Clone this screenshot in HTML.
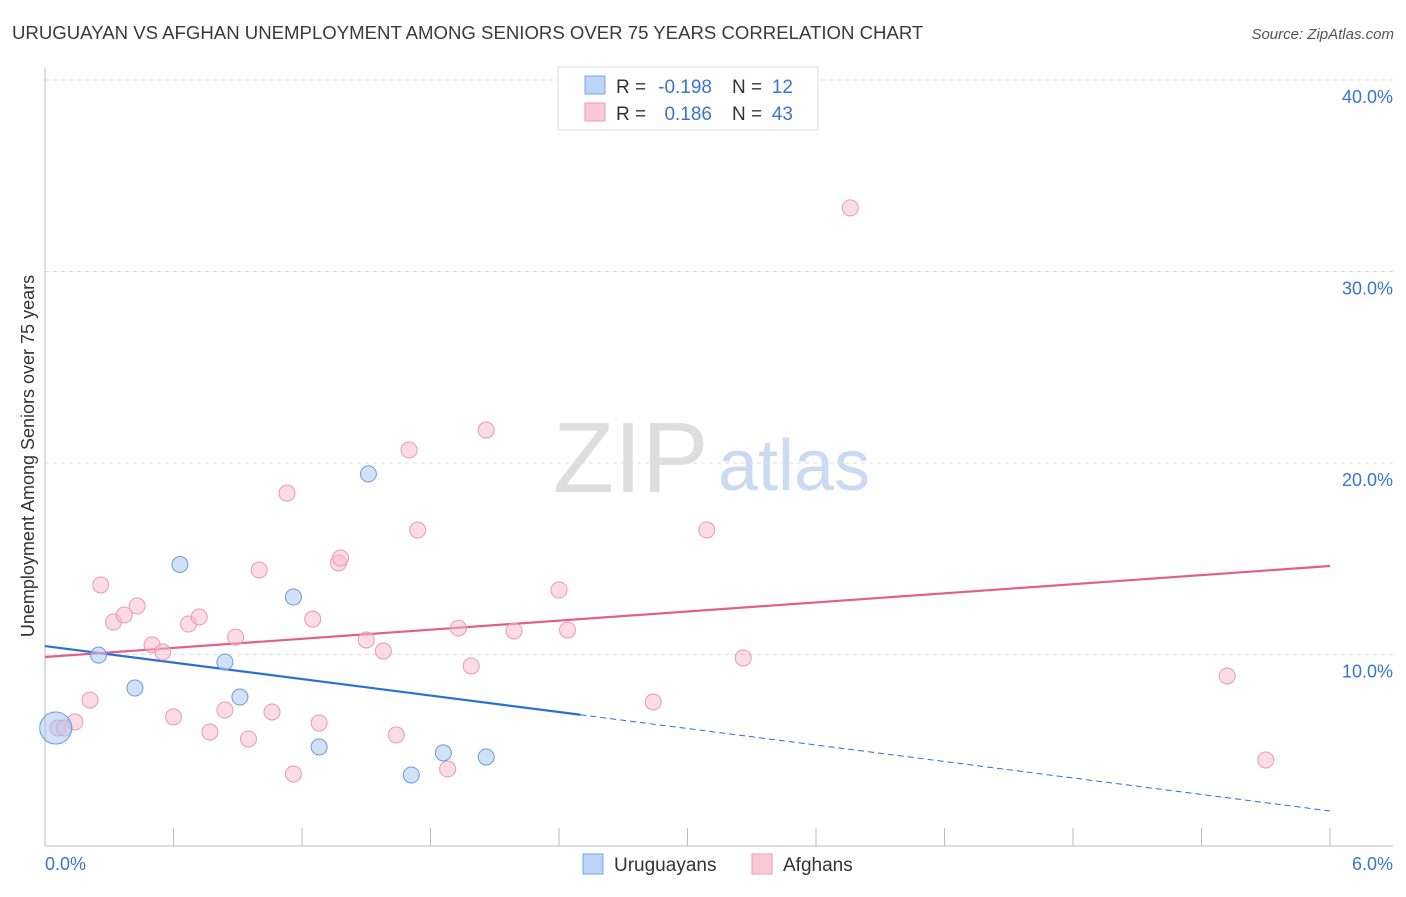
<!DOCTYPE html>
<html><head><meta charset="utf-8"><style>
body{margin:0;background:#fff;font-family:"Liberation Sans",sans-serif}
svg text{font-family:"Liberation Sans",sans-serif}
</style></head><body>
<svg id="chart" width="1406" height="892" xmlns="http://www.w3.org/2000/svg">
<text x="12" y="39" font-size="18.6" fill="#3a3a3a">URUGUAYAN VS AFGHAN UNEMPLOYMENT AMONG SENIORS OVER 75 YEARS CORRELATION CHART</text>
<text x="1394" y="39" font-size="15" fill="#555" text-anchor="end" font-style="italic">Source: ZipAtlas.com</text>
<text x="553" y="492" font-size="100" fill="#ddd" font-family="Liberation Serif">ZIP</text>
<text x="718" y="490" font-size="72" fill="#c9daf3">atlas</text>
<g id="grid"></g>
<g id="axes"></g>
<g id="lines"></g>
<g id="points"></g>
<text transform="translate(34,456) rotate(-90)" font-size="18" fill="#333" text-anchor="middle">Unemployment Among Seniors over 75 years</text>
<text x="45" y="870" font-size="18" fill="#3a74d0">0.0%</text>
<text x="1393" y="870" font-size="18" fill="#3a74d0" text-anchor="end">6.0%</text>
<g>
<rect x="558" y="67" width="260" height="63" fill="#fff" stroke="#ddd"/>
<rect x="585" y="76" width="20" height="18" fill="#bcd4f5" stroke="#7aa6e4"/>
<rect x="585" y="103" width="20" height="18" fill="#fbc9d6" stroke="#ee9ab2"/>
<text x="616" y="93" font-size="19" fill="#333">R =</text>
<text x="712" y="93" font-size="19" fill="#3a74d0" text-anchor="end">-0.198</text>
<text x="732" y="93" font-size="19" fill="#333">N =</text>
<text x="793" y="93" font-size="19" fill="#3a74d0" text-anchor="end">12</text>
<text x="616" y="120" font-size="19" fill="#333">R =</text>
<text x="712" y="120" font-size="19" fill="#3a74d0" text-anchor="end">0.186</text>
<text x="732" y="120" font-size="19" fill="#333">N =</text>
<text x="793" y="120" font-size="19" fill="#3a74d0" text-anchor="end">43</text>
</g>
<g>
<rect x="583" y="854" width="20" height="20" fill="#bcd4f5" stroke="#7aa6e4"/>
<text x="614" y="871" font-size="19" fill="#333">Uruguayans</text>
<rect x="752" y="854" width="20" height="20" fill="#fbc9d6" stroke="#ee9ab2"/>
<text x="783" y="871" font-size="19" fill="#333">Afghans</text>
</g>
</svg>
<script>
const yTicks=[10,20,30,40];
const yTickLabels=["10.0%","20.0%","30.0%","40.0%"];
const uruX=[0.05,0.25,0.42,0.63,0.84,0.91,1.16,1.28,1.51,1.71,1.86,2.06];
const uruY=[6.16,9.97,8.25,14.7,9.6,7.78,13.0,5.17,19.43,3.71,4.86,4.65];
const afgX=[0.06,0.09,0.14,0.21,0.26,0.32,0.37,0.43,0.50,0.55,0.60,0.67,0.72,0.77,0.84,0.89,0.95,1.00,1.06,1.13,1.16,1.25,1.28,1.37,1.38,1.50,1.58,1.64,1.70,1.74,1.88,1.93,1.99,2.06,2.19,2.40,2.44,2.84,3.09,3.26,3.76,5.52,5.70];
const afgY=[6.16,6.16,6.48,7.62,13.63,11.70,12.06,12.53,10.50,10.13,6.74,11.59,11.96,5.95,7.10,10.91,5.59,14.41,7.00,18.43,3.76,11.85,6.42,14.78,15.04,10.76,10.18,5.80,20.68,16.50,4.02,11.38,9.40,21.72,11.23,13.37,11.28,7.52,16.50,9.82,33.32,8.88,4.49];
const uruTrend=[10.44,1.83];
const afgTrend=[9.87,14.62];
const uruSolidEnd=2.5;
const NS="http://www.w3.org/2000/svg";
const X=v=>45+v*(1285/6), Y=v=>846-v*19.15;
function mk(t,a,p){const e=document.createElementNS(NS,t);for(const k in a)e.setAttribute(k,a[k]);p.appendChild(e);return e;}
const grid=document.getElementById('grid'),axes=document.getElementById('axes'),lines=document.getElementById('lines'),pts=document.getElementById('points');
yTicks.forEach((t,i)=>{
 const l=mk('line',{x1:45,x2:1393,y1:Y(t),y2:Y(t),stroke:'#ddd','stroke-dasharray':'4,4'},grid);
 
 
 const tx=mk('text',{x:1393,y:Y(t)+23,'font-size':18,fill:'#3a74d0','text-anchor':'end'},grid);
 tx.textContent=yTickLabels[i];
 
 
});
let a=mk('line',{x1:45,x2:45,y1:68,y2:846,stroke:'#bbb'},axes);


a=mk('line',{x1:45,x2:1393,y1:846,y2:846,stroke:'#bbb'},axes);


for(let i=0;i<=10;i++){const t=mk('line',{x1:X(i*0.6),x2:X(i*0.6),y1:828,y2:846,stroke:'#bbb'},axes);
 
 }
const ty=(tr,x)=>tr[0]+(tr[1]-tr[0])*x/6;
let l=mk('line',{x1:X(0),y1:Y(ty(uruTrend,0)),x2:X(uruSolidEnd),y2:Y(ty(uruTrend,uruSolidEnd)),stroke:'#2a6fd6','stroke-width':2.2},lines);


l=mk('line',{x1:X(uruSolidEnd),y1:Y(ty(uruTrend,uruSolidEnd)),x2:X(6),y2:Y(ty(uruTrend,6)),stroke:'#2a6fd6','stroke-width':1,'stroke-dasharray':'6,4'},lines);


l=mk('line',{x1:X(0),y1:Y(afgTrend[0]),x2:X(6),y2:Y(afgTrend[1]),stroke:'#e0608a','stroke-width':2.2},lines);


afgX.forEach((x,i)=>{const c=mk('circle',{cx:X(x),cy:Y(afgY[i]),r:8,fill:'rgba(248,185,205,0.5)',stroke:'#ec98b4','stroke-width':1},pts);
 
 });
uruX.forEach((x,i)=>{const c=mk('circle',{cx:X(x),cy:Y(uruY[i]),r:i==0?16:8,fill:'rgba(170,200,242,0.55)',stroke:'#6b9be0','stroke-width':1},pts);
 
 });
</script>
</body></html>
